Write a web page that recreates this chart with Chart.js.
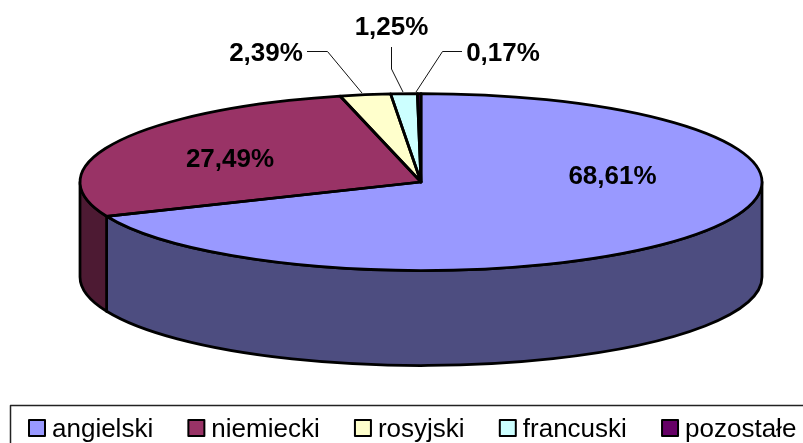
<!DOCTYPE html>
<html><head><meta charset="utf-8">
<style>html,body{margin:0;padding:0;background:#fff;overflow:hidden}canvas{display:block}</style>
<script src="https://cdn.jsdelivr.net/npm/chart.js@4"></script>
</head><body>
<canvas id="c" width="803" height="443"></canvas>
<script>
const categories = ['angielski','niemiecki','rosyjski','francuski','pozostałe'];
const shares = [68.61,27.49,2.39,1.25,0.17];
const topColors = ['#9999FF','#993366','#FFFFCC','#CCFFFF','#660066'];
const wallColors = ['#4D4D80','#4D1A33','#80806A','#6A8080','#330033'];

const RX = 341, RY = 88.5, DEPTH = 95, LINE = 2.75;
// label centre and leader line for each slice
const labelSpots = [
  {x:612.5,y:177},
  {x:230,y:160},
  {x:266,y:54,leader:[[307,51.5],[327.5,51.5],[362,93]]},
  {x:391.5,y:28,leader:[[391.5,47],[391.5,69],[403,92]]},
  {x:503,y:54,leader:[[462,51.5],[442.5,51.5],[416,92]]}
];
const fmt = v => v.toFixed(2).replace('.',',') + '%';

const pie3d = {
  id:'pie3d',
  beforeDatasetsDraw(chart){
    const ctx = chart.ctx, arcs = chart.getDatasetMeta(0).data;
    const cx = arcs[0].x, cy = arcs[0].y;
    ctx.save();
    ctx.lineJoin = 'round';
    arcs.forEach((a,i)=>{
      const s = Math.max(a.startAngle,0), e = Math.min(a.endAngle,Math.PI);
      if (e <= s) return;
      ctx.beginPath();
      ctx.ellipse(cx,cy,RX,RY,0,s,e);
      ctx.ellipse(cx,cy+DEPTH,RX,RY,0,e,s,true);
      ctx.closePath();
      ctx.fillStyle = wallColors[i];
      ctx.fill();
      ctx.strokeStyle = '#000';
      ctx.lineWidth = LINE;
      ctx.stroke();
    });
    ctx.restore();
    ctx.save();
    ctx.translate(cx,cy);
    ctx.scale(1,RY/RX);
    ctx.translate(-cx,-cy);
  },
  afterDatasetsDraw(chart){
    const ctx = chart.ctx, arcs = chart.getDatasetMeta(0).data;
    ctx.restore();
    const cx = arcs[0].x, cy = arcs[0].y;
    ctx.save();
    ctx.strokeStyle = '#000';
    ctx.lineWidth = LINE;
    ctx.lineJoin = 'round';
    arcs.forEach(a=>{
      ctx.beginPath();
      ctx.moveTo(cx,cy);
      ctx.ellipse(cx,cy,RX,RY,0,a.startAngle,a.endAngle);
      ctx.closePath();
      ctx.stroke();
    });
    // leaders
    ctx.lineWidth = 1;
    ctx.strokeStyle = '#111';
    labelSpots.forEach(l=>{
      if(!l.leader) return;
      ctx.beginPath();
      l.leader.forEach((p,i)=> i ? ctx.lineTo(p[0],p[1]) : ctx.moveTo(p[0],p[1]));
      ctx.stroke();
    });
    // value labels
    ctx.fillStyle = '#000';
    ctx.font = 'bold 26px "Liberation Sans", Arial, sans-serif';
    ctx.textAlign = 'center';
    ctx.textBaseline = 'middle';
    shares.forEach((v,i)=> ctx.fillText(fmt(v),labelSpots[i].x,labelSpots[i].y));
    // legend
    ctx.lineWidth = 1.5;
    ctx.strokeStyle = '#222';
    ctx.strokeRect(10.5,405.5,803,50);
    ctx.font = '26px "Liberation Sans", Arial, sans-serif';
    ctx.textAlign = 'left';
    ctx.textBaseline = 'alphabetic';
    let x = 28;
    categories.forEach((name,i)=>{
      ctx.fillStyle = topColors[i];
      ctx.fillRect(x+1,420,16,16);
      ctx.strokeStyle = '#000';
      ctx.lineWidth = 2;
      ctx.strokeRect(x+1,420,16,16);
      ctx.fillStyle = '#000';
      ctx.fillText(name,x+24,437);
      x += 24 + ctx.measureText(name).width + 34.2;
    });
    ctx.restore();
  }
};

new Chart(document.getElementById('c'),{
  type:'pie',
  data:{labels:categories,datasets:[{data:shares,backgroundColor:topColors,borderWidth:0,clip:false}]},
  options:{
    responsive:false,
    animation:false,
    events:[],
    radius:RX,
    layout:{padding:{left:39,right:0,top:0,bottom:79}},
    plugins:{legend:{display:false},tooltip:{enabled:false},title:{display:false}}
  },
  plugins:[pie3d]
});
</script>
</body></html>
